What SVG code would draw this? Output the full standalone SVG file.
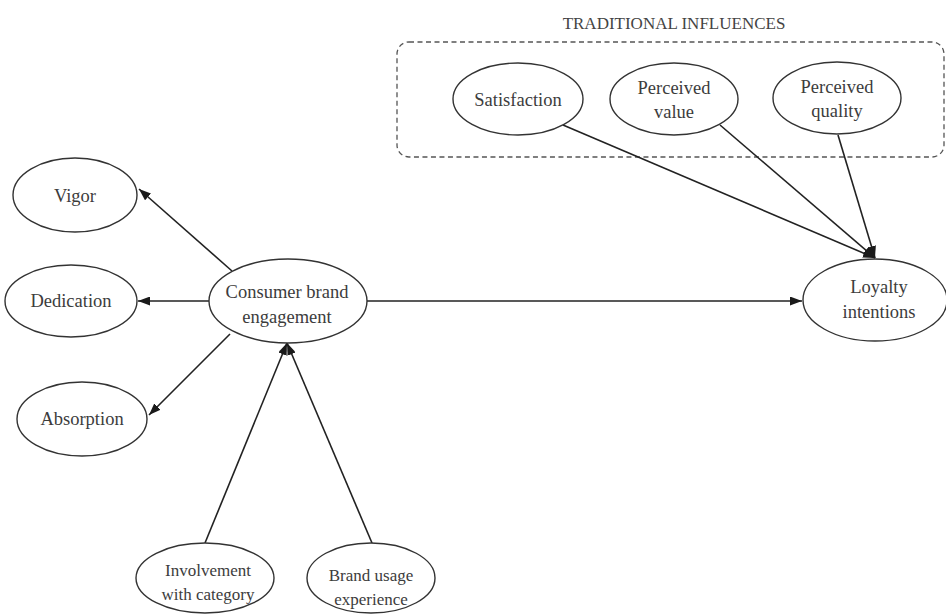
<svg xmlns="http://www.w3.org/2000/svg" width="946" height="615" viewBox="0 0 946 615">
  <defs>
    <marker id="arrow" viewBox="0 0 12 9" refX="12" refY="4.5" markerWidth="12" markerHeight="9" markerUnits="userSpaceOnUse" orient="auto">
      <path d="M0,0 L12,4.5 L0,9 z" fill="#1a1a1a"/>
    </marker>
  </defs>
  <style>
    .node ellipse { fill: #ffffff; stroke: #333333; stroke-width: 1.4; }
    .node text { font-family: "Liberation Serif", "Times New Roman", serif; font-size: 18.5px; fill: #3c3c3c; text-anchor: middle; }
    .node.small text { font-size: 17px; }
    .edge { stroke: #222222; stroke-width: 1.6; fill: none; marker-end: url(#arrow); }
    .group-box { fill: none; stroke: #555555; stroke-width: 1.3; stroke-dasharray: 5 3.5; }
    .group-title { font-family: "Liberation Serif", "Times New Roman", serif; font-size: 17px; fill: #444444; text-anchor: middle; }
  </style>
  <rect width="946" height="615" fill="#ffffff"/>

  <!-- traditional influences cluster -->
  <g id="traditional-influences">
    <text class="group-title" x="674" y="29">TRADITIONAL INFLUENCES</text>
    <rect class="group-box" x="397" y="42" width="547" height="115" rx="12" ry="12"/>
  </g>

  <!-- connectors -->
  <g id="connectors">
    <line class="edge" x1="232" y1="271" x2="139" y2="189"/>
    <line class="edge" x1="209" y1="301" x2="138" y2="301"/>
    <line class="edge" x1="230" y1="334" x2="149" y2="415"/>
    <line class="edge" x1="205" y1="543" x2="287" y2="343"/>
    <line class="edge" x1="372" y1="543" x2="287" y2="343"/>
    <line class="edge" x1="367" y1="301" x2="802" y2="301"/>
    <line class="edge" x1="563" y1="125" x2="875" y2="258"/>
    <line class="edge" x1="720" y1="125" x2="875" y2="258"/>
    <line class="edge" x1="838" y1="135" x2="875" y2="258"/>
  </g>

  <!-- nodes -->
  <g id="satisfaction" class="node">
    <ellipse cx="518" cy="99" rx="65" ry="36"/>
    <text x="518" y="106">Satisfaction</text>
  </g>
  <g id="perceived-value" class="node">
    <ellipse cx="674" cy="99" rx="64" ry="36"/>
    <text x="674" y="94">Perceived</text>
    <text x="674" y="118">value</text>
  </g>
  <g id="perceived-quality" class="node">
    <ellipse cx="837" cy="98" rx="64" ry="36"/>
    <text x="837" y="93">Perceived</text>
    <text x="837" y="117">quality</text>
  </g>
  <g id="vigor" class="node">
    <ellipse cx="75" cy="195" rx="62" ry="37"/>
    <text x="75" y="202">Vigor</text>
  </g>
  <g id="dedication" class="node">
    <ellipse cx="71" cy="301" rx="66" ry="36"/>
    <text x="71" y="307">Dedication</text>
  </g>
  <g id="absorption" class="node">
    <ellipse cx="82" cy="419" rx="65" ry="37"/>
    <text x="82" y="425">Absorption</text>
  </g>
  <g id="consumer-brand-engagement" class="node">
    <ellipse cx="288" cy="301" rx="79" ry="42"/>
    <text x="287" y="298">Consumer brand</text>
    <text x="287" y="323">engagement</text>
  </g>
  <g id="loyalty-intentions" class="node">
    <ellipse cx="875" cy="300" rx="72" ry="41"/>
    <text x="879" y="293">Loyalty</text>
    <text x="879" y="318">intentions</text>
  </g>
  <g id="involvement" class="node small">
    <ellipse cx="205" cy="578" rx="69" ry="35"/>
    <text x="208" y="576">Involvement</text>
    <text x="208" y="600">with category</text>
  </g>
  <g id="brand-usage" class="node small">
    <ellipse cx="371" cy="578" rx="64" ry="35"/>
    <text x="371" y="581">Brand usage</text>
    <text x="371" y="605">experience</text>
  </g>
</svg>
